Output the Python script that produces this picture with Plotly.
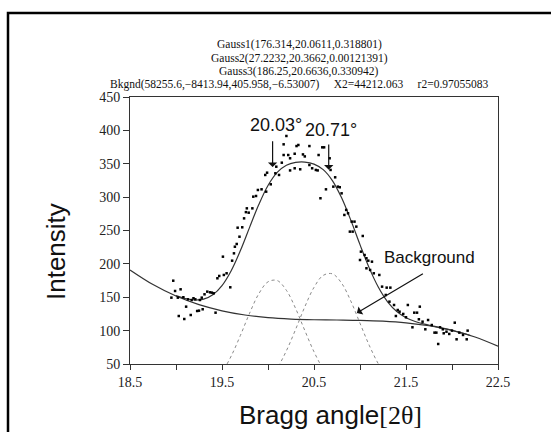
import plotly.graph_objects as go

# Fitted curve (sum of Gaussians + background)
fit_x = [19.0, 19.1, 19.2, 19.3, 19.4, 19.5, 19.6, 19.7, 19.8, 19.9, 20.0, 20.1, 20.2, 20.3, 20.4, 20.5,
         20.6, 20.7, 20.8, 20.9, 21.0, 21.1, 21.2, 21.3, 21.4, 21.5, 21.6, 21.7, 21.8, 21.9, 22.0, 22.1, 22.2]
fit_y = [152.5, 148.1, 145.9, 147.1, 153.7, 167.5, 189.8, 219.9, 254.7, 288.9, 317.5, 337.1, 347.8, 352.0,
         352.5, 349.5, 341.2, 324.8, 298.9, 265.5, 228.8, 194.0, 164.9, 143.2, 128.6, 119.3, 113.6, 109.7,
         106.7, 103.7, 100.5, 96.8, 92.7]

# Background curve
bg_x = [18.5, 18.75, 19.0, 19.25, 19.5, 19.75, 20.0, 20.25, 20.5, 20.75, 21.0, 21.25, 21.5, 21.75, 22.0, 22.25, 22.5]
bg_y = [190.9, 169.0, 151.8, 138.9, 129.7, 123.4, 119.4, 117.3, 116.3, 115.9, 115.4, 114.2, 111.7, 107.3, 100.4, 90.4, 76.6]

# Gaussian components
g1_x = [19.3, 19.4, 19.5, 19.6, 19.7, 19.8, 19.9, 20.0, 20.1, 20.2, 20.3, 20.4, 20.5, 20.6, 20.7, 20.8, 20.9]
g1_y = [10.2, 20.5, 37.5, 61.9, 92.8, 126.1, 155.2, 173.1, 175.0, 160.4, 133.2, 100.2, 68.3, 42.3, 23.7, 12.0, 5.5]
g3_x = [19.9, 20.0, 20.1, 20.2, 20.3, 20.4, 20.5, 20.6, 20.7, 20.8, 20.9, 21.0, 21.1, 21.2, 21.3, 21.4, 21.5]
g3_y = [13.0, 24.9, 43.7, 69.8, 101.8, 135.6, 164.8, 182.8, 185.1, 171.1, 144.3, 111.1, 78.1, 50.1, 29.3, 15.7, 7.6]

# Measured points
pts_x = [18.95, 18.97, 18.99, 19.02, 19.03, 19.05, 19.08, 19.09, 19.11, 19.13, 19.16, 19.17, 19.19, 19.21,
         19.23, 19.25, 19.26, 19.28, 19.29, 19.31, 19.34, 19.37, 19.39, 19.41, 19.43, 19.45, 19.47, 19.51,
         19.52, 19.55, 19.59, 19.61, 19.63, 19.64, 19.66, 19.67, 19.69, 19.72, 19.74, 19.76, 19.77, 19.79,
         19.83, 19.84, 19.87, 19.89, 19.93, 19.98, 19.97, 19.99, 20.03, 20.08, 20.09, 20.12, 20.15, 20.17,
         20.17, 20.20, 20.22, 20.24, 20.24, 20.29, 20.29, 20.31, 20.33, 20.35, 20.38, 20.40, 20.45, 20.45,
         20.48, 20.52, 20.54, 20.55, 20.57, 20.59, 20.61, 20.63, 20.67, 20.68, 20.71, 20.73, 20.76, 20.78,
         20.80, 20.83, 20.85, 20.87, 20.89, 20.91, 20.92, 20.94, 20.96, 21.00, 21.01, 21.03, 21.05, 21.07,
         21.07, 21.09, 21.11, 21.13, 21.15, 21.21, 21.24, 21.28, 21.29, 21.32, 21.33, 21.37, 21.39, 21.41,
         21.43, 21.47, 21.50, 21.52, 21.57, 21.59, 21.62, 21.64, 21.65, 21.68, 21.71, 21.74, 21.78, 21.81,
         21.83, 21.85, 21.87, 21.90, 21.91, 21.94, 21.97, 22.00, 22.03, 22.05, 22.08, 22.12, 22.16, 22.17]
pts_y = [149.4, 174.8, 159.4, 149.4, 121.9, 161.9, 150.0, 117.4, 135.9, 146.9, 123.4, 145.9, 148.5, 146.9,
         129.4, 129.9, 145.9, 149.4, 132.0, 154.4, 158.4, 157.4, 156.9, 155.9, 126.9, 178.4, 181.9, 210.8,
         183.4, 185.9, 164.9, 204.8, 215.8, 225.7, 229.8, 254.2, 240.7, 254.8, 268.2, 277.5, 283.2, 276.7,
         283.2, 300.7, 301.7, 310.7, 311.7, 308.2, 333.2, 336.6, 319.2, 335.7, 345.6, 333.2, 351.6, 363.1,
         379.1, 391.6, 363.1, 358.2, 340.0, 343.2, 365.0, 376.5, 378.1, 341.7, 364.0, 361.0, 376.5, 348.1,
         343.2, 340.7, 340.0, 363.1, 298.3, 374.6, 374.6, 311.7, 358.2, 340.7, 315.7, 329.7, 315.7, 314.8,
         305.7, 273.3, 280.8, 275.8, 248.3, 263.3, 248.3, 263.3, 255.8, 205.8, 218.3, 241.8, 213.3, 208.4,
         193.4, 204.8, 190.9, 203.3, 185.9, 183.4, 165.9, 153.4, 164.4, 143.4, 164.4, 138.4, 121.9, 130.9,
         128.4, 125.0, 120.0, 138.4, 105.0, 126.9, 126.9, 117.0, 135.9, 113.4, 102.0, 115.9, 108.4, 97.0,
         97.0, 80.0, 105.0, 102.0, 96.0, 98.4, 95.0, 100.0, 111.9, 87.0, 97.0, 93.5, 87.0, 100.0]

x_tickvals = [18.5, 19.0, 19.5, 20.0, 20.5, 21.0, 21.5, 22.0, 22.5]
x_ticktext = ["18.5", "", "19.5", "", "20.5", "", "21.5", "", "22.5"]
y_tickvals = [50, 100, 150, 200, 250, 300, 350, 400, 450]

title_lines = [
    "Gauss1(176.314,20.0611,0.318801)",
    "Gauss2(27.2232,20.3662,0.00121391)",
    "Gauss3(186.25,20.6636,0.330942)",
    "Bkgnd(58255.6,\u22128413.94,405.958,\u22126.53007)&nbsp;&nbsp;&nbsp;&nbsp;&nbsp;X2=44212.063&nbsp;&nbsp;&nbsp;&nbsp;&nbsp;r2=0.97055083",
]

fig = go.Figure()
fig.add_trace(go.Scatter(x=bg_x, y=bg_y, mode="lines", line=dict(color="#333333", width=1.2, shape="spline"),
                         showlegend=False, hoverinfo="skip"))
fig.add_trace(go.Scatter(x=g1_x, y=g1_y, mode="lines", line=dict(color="#8a8a8a", width=1, dash="dot", shape="spline"),
                         showlegend=False, hoverinfo="skip"))
fig.add_trace(go.Scatter(x=g3_x, y=g3_y, mode="lines", line=dict(color="#8a8a8a", width=1, dash="dot", shape="spline"),
                         showlegend=False, hoverinfo="skip"))
fig.add_trace(go.Scatter(x=fit_x, y=fit_y, mode="lines", line=dict(color="#333333", width=1.2, shape="spline"),
                         showlegend=False, hoverinfo="skip"))
fig.add_trace(go.Scatter(x=pts_x, y=pts_y, mode="markers",
                         marker=dict(symbol="square", size=2.5, color="black", line=dict(width=0)),
                         showlegend=False))

W, H = 551, 432
L, R, T, B = 130, 53, 97, 68
pw, ph = W - L - R, H - T - B

def px(x):
    return (x - L) / pw

def py(y):
    return (H - B - y) / ph

serif = "Times New Roman, Liberation Serif, serif"
sans = "Arial, Liberation Sans, sans-serif"
annotations = []
for i, (line, yy) in enumerate(zip(title_lines, [45, 58, 71, 85])):
    annotations.append(dict(xref="paper", yref="paper", x=px(299), y=py(yy), text=line, showarrow=False,
                            xanchor="center", yanchor="middle", font=dict(family=serif, size=11.5, color="#111")))

annotations.append(dict(xref="paper", yref="paper", x=px(56), y=py(252), text="Intensity", textangle=-90,
                        showarrow=False, font=dict(family=sans, size=26, color="#111"),
                        xanchor="center", yanchor="middle"))
annotations.append(dict(xref="paper", yref="paper", x=px(330), y=py(415),
                        text="Bragg angle<span style='font-family:Times New Roman, serif'>[2\u03b8]</span>",
                        showarrow=False, font=dict(family=sans, size=26, color="#111"),
                        xanchor="center", yanchor="middle"))

# Peak labels and arrows
annotations += [
    dict(x=20.09, y=408, xref="x", yref="y", text="20.03\u00b0", showarrow=False,
         font=dict(family=sans, size=18, color="#111")),
    dict(x=20.68, y=401, xref="x", yref="y", text="20.71\u00b0", showarrow=False,
         font=dict(family=sans, size=18, color="#111")),
    dict(x=21.75, y=209, xref="x", yref="y", text="Background", showarrow=False,
         font=dict(family=sans, size=17, color="#111")),
    dict(x=20.05, y=345, ax=20.05, ay=386, xref="x", yref="y", axref="x", ayref="y", text="",
         showarrow=True, arrowhead=1, arrowsize=1.3, arrowwidth=1.2, arrowcolor="#111"),
    dict(x=20.66, y=341, ax=20.66, ay=381, xref="x", yref="y", axref="x", ayref="y", text="",
         showarrow=True, arrowhead=1, arrowsize=1.3, arrowwidth=1.2, arrowcolor="#111"),
    dict(x=20.966, y=126.5, ax=21.70, ay=186.5, xref="x", yref="y", axref="x", ayref="y", text="",
         showarrow=True, arrowhead=1, arrowsize=1.3, arrowwidth=1.2, arrowcolor="#111"),
]

fig.update_layout(
    width=W, height=H,
    margin=dict(l=L, r=R, t=T, b=B),
    paper_bgcolor="white", plot_bgcolor="white",
    annotations=annotations,
    shapes=[dict(type="rect", xref="paper", yref="paper", x0=px(8), x1=px(570), y0=py(13), y1=py(450),
                 line=dict(color="black", width=2.5), fillcolor="rgba(0,0,0,0)", layer="above")],
)
fig.update_xaxes(range=[18.5, 22.5], tickvals=x_tickvals, ticktext=x_ticktext, ticks="outside", ticklen=5,
                 tickwidth=1, tickcolor="#333", showline=True, linecolor="#333", linewidth=1, mirror=True,
                 showgrid=False, zeroline=False, tickfont=dict(family=serif, size=14, color="#222"))
fig.update_yaxes(range=[50, 450], tickvals=y_tickvals, ticks="outside", ticklen=6, tickwidth=1,
                 tickcolor="#333", showline=True, linecolor="#333", linewidth=1, mirror=True,
                 showgrid=False, zeroline=False, tickfont=dict(family=serif, size=14, color="#222"))

fig.write_html("out.html")
